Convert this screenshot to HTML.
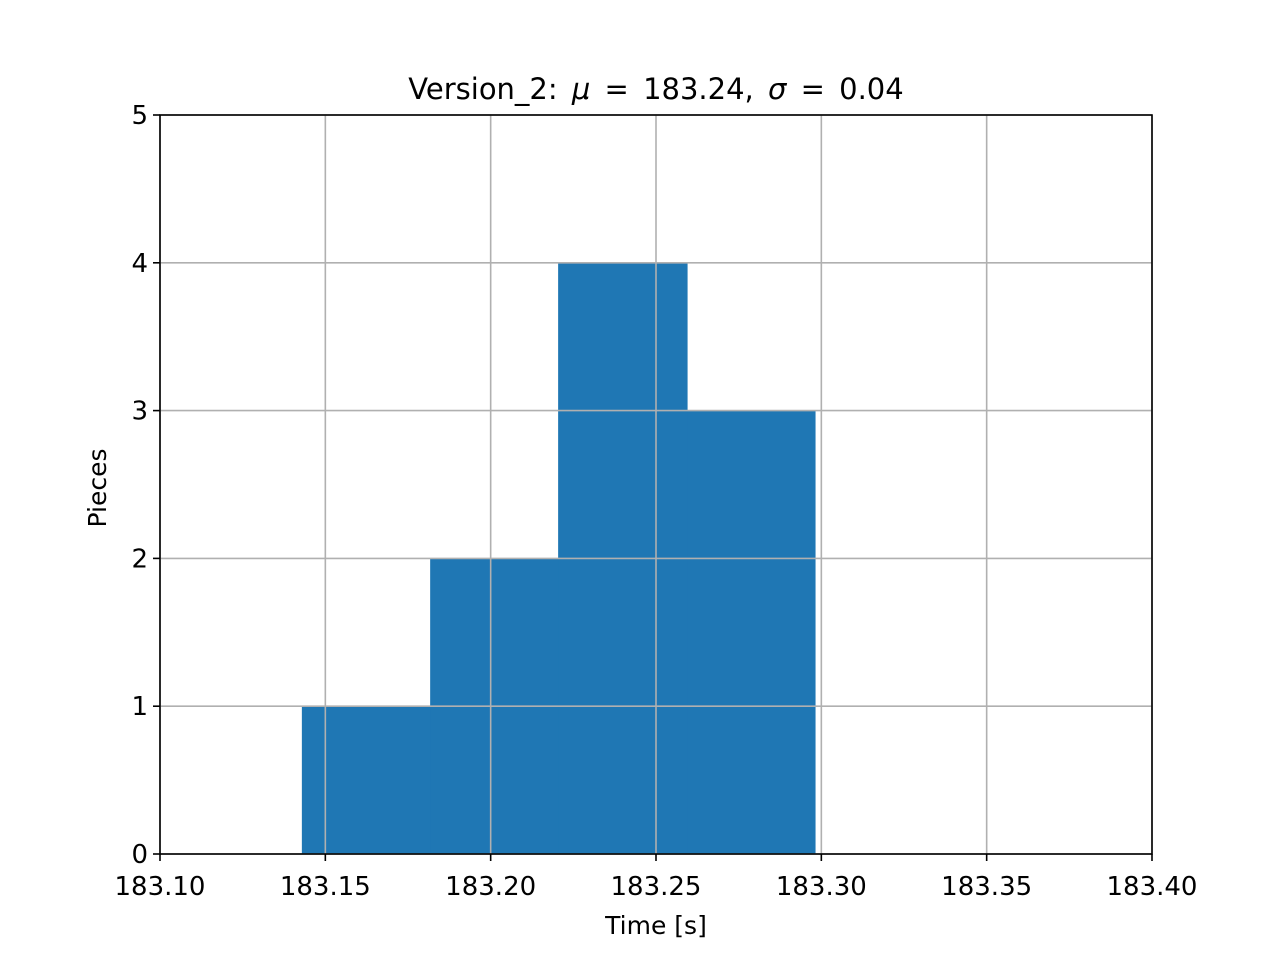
<!DOCTYPE html>
<html><head><meta charset="utf-8"><style>body{margin:0;background:#fff}svg{display:block}text{font-family:"DejaVu Sans","Liberation Sans",sans-serif}</style></head>
<body>
<svg id="chart" width="1280" height="960" xmlns="http://www.w3.org/2000/svg">
<rect width="1280" height="960" fill="#fff"/>
<g id="bars"></g>
<g id="grid"></g>
<rect x="160" y="115" width="992" height="739" fill="none" stroke="#000" stroke-width="1.6"/>
<g id="ticks"></g>
<text x="656" y="99" font-size="29" text-anchor="middle" word-spacing="5">Version_2: <tspan font-style="italic">μ</tspan> = 183.24, <tspan font-style="italic">σ</tspan> = 0.04</text>
<text x="656" y="934" font-size="25" text-anchor="middle">Time [s]</text>
<text x="106" y="488" font-size="25" text-anchor="middle" transform="rotate(-90 106 488)">Pieces</text>
</svg>
<script>
const binEdges=[183.1429,183.1817,183.2204,183.2594,183.2981];
const counts=[1,2,4,3];
const xTicks=[183.10,183.15,183.20,183.25,183.30,183.35,183.40];
const yTicks=[0,1,2,3,4,5];
const NS="http://www.w3.org/2000/svg";
const X0=160,X1=1152,Y0=854,Y1=115;
const xs=v=>X0+(v-183.10)/(0.30)*(X1-X0);
const ys=v=>Y0-v/5*(Y0-Y1);
function mk(t,a,p){const e=document.createElementNS(NS,t);for(const k in a)e.setAttribute(k,a[k]);p.appendChild(e);return e;}
const bars=document.getElementById('bars'),grid=document.getElementById('grid'),ticks=document.getElementById('ticks');
counts.forEach((c,i)=>{const r=mk('rect',{x:xs(binEdges[i]),y:ys(c),width:xs(binEdges[i+1])-xs(binEdges[i])+0.5,height:ys(0)-ys(c),fill:'#1f77b4'},bars);

});
xTicks.forEach(v=>{const x=xs(v);
const g=mk('line',{x1:x,x2:x,y1:Y1,y2:Y0,stroke:'#b0b0b0','stroke-width':1.6},grid);


mk('line',{x1:x,x2:x,y1:Y0,y2:Y0+7,stroke:'#000','stroke-width':1.6},ticks);
const t=mk('text',{x:x,y:Y0+41,'font-size':26,'text-anchor':'middle'},ticks);t.textContent=v.toFixed(2);

});
yTicks.forEach(v=>{const y=ys(v);
const g=mk('line',{x1:X0,x2:X1,y1:y,y2:y,stroke:'#b0b0b0','stroke-width':1.6},grid);


mk('line',{x1:X0-7,x2:X0,y1:y,y2:y,stroke:'#000','stroke-width':1.6},ticks);
const t=mk('text',{x:X0-12,y:y+9,'font-size':26,'text-anchor':'end'},ticks);t.textContent=v;

});
</script>
</body></html>
